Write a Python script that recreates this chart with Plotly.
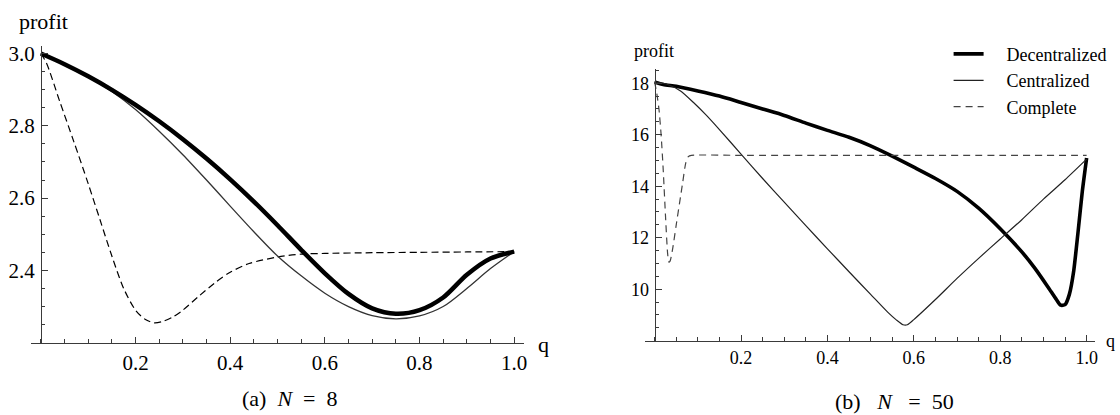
import plotly.graph_objects as go

# ---------------- Panel (a): N = 8 ----------------
q_a = [0, .05, .1, .15, .2, .25, .3, .35, .4, .45, .5, .55, .6, .65, .7, .75, .8, .85, .9, .95, 1.0]
dec_a = [3.0, 2.9705, 2.937, 2.8995, 2.858, 2.8125, 2.763, 2.7095, 2.652, 2.5905, 2.525, 2.457, 2.392, 2.335, 2.295, 2.28, 2.29, 2.325, 2.388, 2.433, 2.452]
cen_a = [3.0, 2.9705, 2.936, 2.895, 2.845, 2.785, 2.72, 2.65, 2.578, 2.507, 2.44, 2.385, 2.337, 2.3, 2.275, 2.266, 2.274, 2.3, 2.35, 2.405, 2.452]
q_comp_a = [0, 0.012, 0.04, 0.07, 0.1, 0.125, 0.15, 0.175, 0.2, 0.22, 0.24, 0.26, 0.28, 0.3, 0.335, 0.37, 0.4, 0.44, 0.5, 0.55, 0.6, 0.7, 0.8, 0.9, 1.0]
comp_a = [3.0, 2.973, 2.867, 2.755, 2.64, 2.54, 2.44, 2.35, 2.29, 2.265, 2.255, 2.26, 2.272, 2.29, 2.33, 2.368, 2.395, 2.419, 2.437, 2.445, 2.447, 2.449, 2.45, 2.451, 2.452]

# ---------------- Panel (b): N = 50 ----------------
q_dec_b = [0, 0.02, 0.05, 0.1, 0.15, 0.2, 0.25, 0.3, 0.35, 0.4, 0.45, 0.5, 0.55, 0.6, 0.65, 0.7, 0.75, 0.8, 0.85, 0.88, 0.91, 0.93, 0.94, 0.95, 0.96, 0.97, 0.98, 0.99, 1.0]
dec_b = [18.05, 17.95, 17.88, 17.7, 17.5, 17.25, 17.0, 16.75, 16.45, 16.17, 15.9, 15.57, 15.17, 14.74, 14.3, 13.8, 13.15, 12.35, 11.45, 10.82, 10.1, 9.6, 9.38, 9.4, 9.8, 10.7, 12.2, 13.8, 15.1]
q_cen_b = [0, 0.03, 0.06, 0.09, 0.12, 0.15, 0.2, 0.25, 0.3, 0.35, 0.4, 0.45, 0.5, 0.54, 0.56, 0.575, 0.585, 0.6, 0.65, 0.7, 0.75, 0.8, 0.85, 0.9, 0.95, 1.0]
cen_b = [18.05, 17.95, 17.7, 17.25, 16.75, 16.2, 15.25, 14.3, 13.38, 12.47, 11.57, 10.68, 9.8, 9.1, 8.8, 8.62, 8.62, 8.82, 9.6, 10.42, 11.2, 11.95, 12.7, 13.5, 14.25, 15.05]
q_comp_b = [0, 0.005, 0.01, 0.015, 0.02, 0.025, 0.03, 0.033, 0.036, 0.042, 0.05, 0.06, 0.065, 0.072, 0.078, 0.085, 0.2, 0.4, 0.6, 0.8, 1.0]
comp_b = [18.05, 17.6, 17.0, 16.0, 14.6, 12.9, 11.4, 11.05, 11.1, 11.6, 12.5, 13.6, 14.15, 14.9, 15.15, 15.2, 15.2, 15.2, 15.2, 15.2, 15.2]

x_ticks = [0.2, 0.4, 0.6, 0.8, 1.0]
x_ticktext = ["0.2", "0.4", "0.6", "0.8", "1.0"]
y_ticks_a = [2.4, 2.6, 2.8, 3.0]
y_ticktext_a = ["2.4", "2.6", "2.8", "3.0"]
y_ticks_b = [10, 12, 14, 16, 18]
y_ticktext_b = ["10", "12", "14", "16", "18"]

W, H = 1120, 415
FONT = "Liberation Serif"
AX = "#3a3a3a"


def fx(px):
    return px / W


def fy(py):
    return 1 - py / H


fig = go.Figure()

# Panel (a)
fig.add_trace(go.Scatter(x=q_comp_a, y=comp_a, mode="lines", xaxis="x", yaxis="y", showlegend=False,
                         line=dict(color="black", width=1.2, dash="7px,4px", shape="spline", smoothing=0.8)))
fig.add_trace(go.Scatter(x=q_a, y=cen_a, mode="lines", xaxis="x", yaxis="y", showlegend=False,
                         line=dict(color="#333333", width=1.3, shape="spline", smoothing=0.8)))
fig.add_trace(go.Scatter(x=q_a, y=dec_a, mode="lines", xaxis="x", yaxis="y", showlegend=False,
                         line=dict(color="black", width=4.5, shape="spline", smoothing=0.8)))

# Panel (b)
nb = "\u00a0" * 4
fig.add_trace(go.Scatter(x=q_dec_b, y=dec_b, mode="lines", xaxis="x2", yaxis="y2", name=nb + "Decentralized",
                         line=dict(color="black", width=3.6, shape="spline", smoothing=0.6)))
fig.add_trace(go.Scatter(x=q_cen_b, y=cen_b, mode="lines", xaxis="x2", yaxis="y2", name=nb + "Centralized",
                         line=dict(color="#222222", width=1.2, shape="spline", smoothing=0.6)))
fig.add_trace(go.Scatter(x=q_comp_b, y=comp_b, mode="lines", xaxis="x2", yaxis="y2", name=nb + "Complete",
                         line=dict(color="#444444", width=1.2, dash="7px,5px", shape="spline", smoothing=0.6)))


def xax(domain, rng, size, anchor):
    return dict(domain=domain, range=rng, anchor=anchor, showline=True, linecolor=AX, linewidth=1,
                ticks="inside", ticklen=6, tickcolor=AX, tickwidth=1,
                tickmode="array", tickvals=x_ticks, ticktext=x_ticktext,
                minor=dict(dtick=0.05, tick0=0, ticks="inside", ticklen=3.5, tickcolor=AX, showgrid=False),
                showgrid=False, zeroline=False, tickfont=dict(family=FONT, size=size, color="black"),
                ticklabelstandoff=1, fixedrange=True)


def yax(domain, rng, pos, vals, text, mdt, size):
    return dict(domain=domain, range=rng, anchor="free", position=pos,
                showline=True, linecolor=AX, linewidth=1,
                ticks="inside", ticklen=6, tickcolor=AX, tickwidth=1,
                tickmode="array", tickvals=vals, ticktext=text,
                minor=dict(dtick=mdt, tick0=0, ticks="inside", ticklen=3.5, tickcolor=AX, showgrid=False),
                showgrid=False, zeroline=False, tickfont=dict(family=FONT, size=size, color="black"),
                ticklabelstandoff=2, fixedrange=True)


fig.update_layout(
    width=W, height=H,
    margin=dict(l=0, r=0, t=0, b=0),
    paper_bgcolor="white", plot_bgcolor="white",
    xaxis=xax([fx(31.5), fx(525.5)], [-0.02, 1.02], 21, "y"),
    yaxis=yax([fy(342), fy(42.7)], [2.2, 3.02], fx(41), y_ticks_a, y_ticktext_a, 0.05, 21),
    xaxis2=xax([fx(647), fx(1099.2)], [-0.023, 1.02], 18, "y2"),
    yaxis2=yax([fy(340), fy(65.7)], [8, 18.55], fx(657), y_ticks_b, y_ticktext_b, 0.5, 18),
    legend=dict(x=fx(952), y=fy(32), xanchor="left", yanchor="top",
                font=dict(family=FONT, size=18, color="black"), bgcolor="rgba(0,0,0,0)",
                itemwidth=30, tracegroupgap=0),
    showlegend=True,
    hovermode=False,
)

ann = []


def text(x, y, s, size):
    ann.append(dict(x=fx(x), y=fy(y), xref="paper", yref="paper", text=s, showarrow=False,
                    xanchor="center", yanchor="middle", font=dict(family=FONT, size=size, color="black")))


sp = "\u00a0"
text(44, 18, "profit", 22)
text(545, 344, "q", 22)
text(656, 47, "profit", 18)
text(1114, 340, "q", 18)
text(291, 398, "(a)" + sp * 2 + "<i>N</i>" + sp * 2 + "=" + sp * 2 + "8", 22)
text(898, 401, "(b)" + sp * 3 + "<i>N</i>" + sp * 3 + "=" + sp * 2 + "50", 22)
fig.update_layout(annotations=ann)

# remove the browser's default 8px body margin so the 1120x415 figure fills the window exactly
fig.write_html("out.html", config={"displayModeBar": False},
               post_script="document.body.style.margin='0';document.body.style.overflow='hidden';")
